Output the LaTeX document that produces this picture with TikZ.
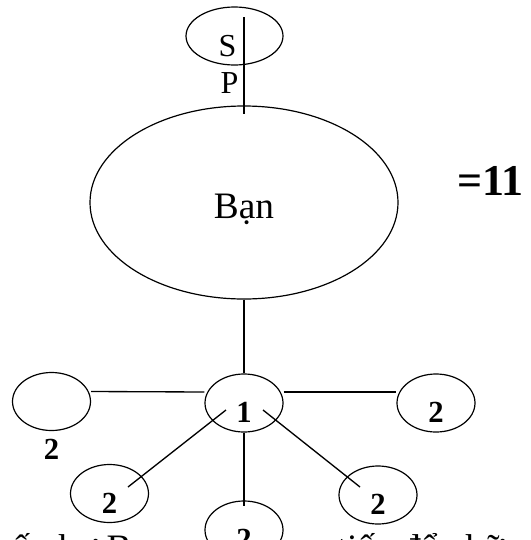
\documentclass[tikz,border=0pt]{standalone}
\usepackage{fontspec}
\setmainfont{Liberation Serif}
\usetikzlibrary{shapes.geometric}

\begin{document}
\begin{tikzpicture}[x=0.75pt, y=-0.75pt]
		\tikzset{
			ecirc/.style={
				draw, ellipse, fill=white, line width=0.9pt, inner sep=0pt
			},
			ncirc/.style={
				ecirc, minimum width=58.5pt, minimum height=43.5pt,
				font=\fontsize{23}{23}\selectfont\bfseries,
				text height=29.5pt, text depth=0pt
			},
			link/.style={
				draw, line width=1pt
			}
		}
		\useasboundingbox (0,0) rectangle (531,540);
		
		% line of text cut by the lower edge
		\node [anchor=base west, inner sep=0pt, font=\fontsize{28}{28}\selectfont] (cut) at (-3,560) {số như Bạn ra các bạn tiếp để những};
		
		\node [ecirc, minimum width=72.75pt, minimum height=43.5pt] (sp) at (234.5,36) {};
		\node [inner sep=0pt, font=\fontsize{24}{24}\selectfont] (s) at (227.5,46) {S};
		\node [inner sep=0pt, font=\fontsize{24}{24}\selectfont] (p) at (229.5,83.5) {P};
		
		\node [ecirc, minimum width=231pt, minimum height=144.75pt, font=\fontsize{28}{28}\selectfont, text height=23.7pt, text depth=0pt] (ban) at (244,202.5) {Bạn};
		\node [inner sep=0pt, font=\fontsize{33}{33}\selectfont\bfseries] (sum) at (490.5,180.5) {=11};
		
		\node [ncirc] (one) at (244,403) {1};
		\node [ncirc] (le) at (51.5,401.5) {};
		\node [inner sep=0pt, font=\fontsize{23}{23}\selectfont\bfseries] (lelab) at (51.5,449) {2};
		
		\foreach \n/\x/\y in {ri/436/403, ll/109.5/493.5, lr/378/495, bo/244/530}{
			\node [ncirc] (\n) at (\x,\y) {2};
		}
		
		\coordinate (stop) at (244,17);
		\path (stop) edge [link] ([shift={(0,9)}]ban.north);
		\path (ban) edge [link] (one);
		\path ([shift={(0,-10)}]le.east) edge [link] ([shift={(0,-11)}]one.west);
		\path ([shift={(0,-11)}]one.east) edge [link] ([shift={(0,-11)}]ri.west);
		\path ([shift={(-18,7)}]one.center) edge [link] ([shift={(18.5,-6.5)}]ll.center);
		\path ([shift={(19,7)}]one.center) edge [link] ([shift={(-18,-8)}]lr.center);
		\path (one.south) edge [link] ([shift={(0,6)}]bo.north);
\end{tikzpicture}
\end{document}
